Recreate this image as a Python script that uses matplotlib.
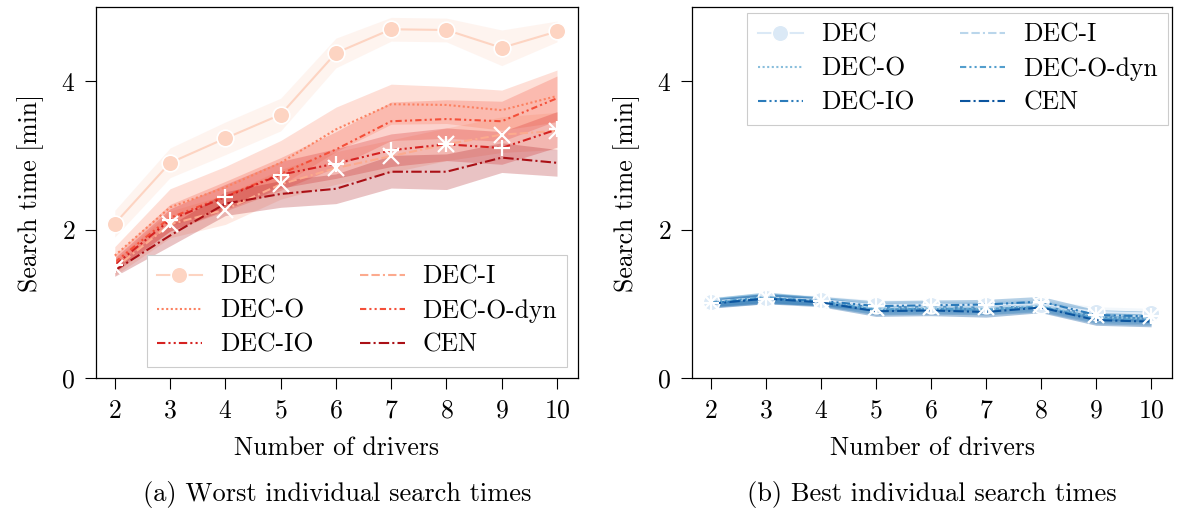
import matplotlib
matplotlib.use("Agg")
import matplotlib.pyplot as plt
import numpy as np

plt.rcParams['font.family'] = ['cmr10', 'DejaVu Serif']
plt.rcParams['mathtext.fontset'] = 'cm'
plt.rcParams['axes.formatter.use_mathtext'] = True
plt.rcParams['font.size'] = 18.5

drivers = [2, 3, 4, 5, 6, 7, 8, 9, 10]
methods = ["DEC", "DEC-I", "DEC-O", "DEC-O-dyn", "DEC-IO", "CEN"]

# Worst individual search times (mean) [min]
worst_DEC = [2.08, 2.90, 3.23, 3.55, 4.38, 4.70, 4.69, 4.45, 4.67]
worst_DEC_I = [1.48, 2.07, 2.27, 2.61, 2.83, 2.99, 3.15, 3.28, 3.33]
worst_DEC_O = [1.65, 2.30, 2.57, 2.90, 3.35, 3.69, 3.68, 3.61, 3.80]
worst_DEC_O_dyn = [1.56, 2.16, 2.45, 2.75, 3.08, 3.46, 3.49, 3.46, 3.77]
worst_DEC_IO = [1.52, 2.13, 2.44, 2.74, 2.89, 3.07, 3.15, 3.10, 3.35]
worst_CEN = [1.45, 1.92, 2.35, 2.48, 2.55, 2.78, 2.78, 2.97, 2.90]
# confidence half-widths
worst_DEC_ci = [0.18, 0.20, 0.22, 0.22, 0.20, 0.16, 0.16, 0.24, 0.14]
worst_DEC_I_ci = [0.10, 0.18, 0.20, 0.20, 0.22, 0.22, 0.22, 0.24, 0.25]
worst_DEC_O_ci = [0.12, 0.25, 0.28, 0.30, 0.30, 0.27, 0.25, 0.27, 0.35]
worst_DEC_O_dyn_ci = [0.10, 0.18, 0.20, 0.22, 0.24, 0.26, 0.26, 0.27, 0.30]
worst_DEC_IO_ci = [0.10, 0.15, 0.17, 0.18, 0.20, 0.22, 0.22, 0.22, 0.24]
worst_CEN_ci = [0.08, 0.14, 0.16, 0.18, 0.20, 0.22, 0.24, 0.20, 0.18]

# Best individual search times (mean) [min]
best_DEC = [1.03, 1.08, 1.05, 0.98, 0.99, 0.98, 0.99, 0.89, 0.87]
best_DEC_I = [1.02, 1.09, 1.04, 0.95, 0.96, 0.96, 0.98, 0.85, 0.83]
best_DEC_O = [1.02, 1.08, 1.03, 0.93, 0.94, 0.93, 0.97, 0.82, 0.80]
best_DEC_O_dyn = [1.02, 1.09, 1.03, 0.92, 0.93, 0.92, 0.96, 0.80, 0.78]
best_DEC_IO = [1.01, 1.07, 1.04, 0.97, 0.98, 0.99, 1.03, 0.85, 0.83]
best_CEN = [1.00, 1.07, 1.02, 0.90, 0.91, 0.89, 0.95, 0.78, 0.76]
best_ci = [0.06, 0.07, 0.06, 0.07, 0.07, 0.07, 0.07, 0.07, 0.07]

reds = ['#fdd4c2', '#fcaa8e', '#fc8161', '#f44f39', '#d52221', '#aa1016']
blues = ['#dbe9f6', '#bad6eb', '#89bedc', '#539ecd', '#2b7bba', '#0b559f']

styles = {
    "DEC": '-',
    "DEC-I": (0, (4, 1.5, 4, 1.5, 1, 1.5)),
    "DEC-O": (0, (1, 1.2)),
    "DEC-O-dyn": (0, (3, 1.5, 1, 1.5, 1, 1.5)),
    "DEC-IO": (0, (4, 1.5, 1, 1.5, 1, 1.5)),
    "CEN": (0, (5, 1.5, 1, 1.5)),
}
markers = {"DEC-I": 'x', "DEC-IO": '+'}

worst = {
    "DEC": (worst_DEC, worst_DEC_ci),
    "DEC-I": (worst_DEC_I, worst_DEC_I_ci),
    "DEC-O": (worst_DEC_O, worst_DEC_O_ci),
    "DEC-O-dyn": (worst_DEC_O_dyn, worst_DEC_O_dyn_ci),
    "DEC-IO": (worst_DEC_IO, worst_DEC_IO_ci),
    "CEN": (worst_CEN, worst_CEN_ci),
}
best = {
    "DEC": (best_DEC, best_ci),
    "DEC-I": (best_DEC_I, best_ci),
    "DEC-O": (best_DEC_O, best_ci),
    "DEC-O-dyn": (best_DEC_O_dyn, best_ci),
    "DEC-IO": (best_DEC_IO, best_ci),
    "CEN": (best_CEN, best_ci),
}

fig = plt.figure(figsize=(11.81, 5.15), dpi=100)
ax1 = fig.add_axes([96/1181, 137/515, 482/1181, 371/515])
ax2 = fig.add_axes([692/1181, 137/515, 480/1181, 371/515])

legend_order = ["DEC", "DEC-O", "DEC-IO", "DEC-I", "DEC-O-dyn", "CEN"]

def draw(ax, data, colors, legend_loc, bbox, alpha):
    x = np.array(drivers)
    handles = {}
    for i, m in enumerate(methods):
        y, ci = data[m]
        y = np.array(y); ci = np.array(ci)
        c = colors[i]
        ax.fill_between(x, y - ci, y + ci, color=c, alpha=alpha, lw=0)
        if m == "DEC":
            ln, = ax.plot(x, y, color=c, ls='-', lw=1.5, marker='o', ms=12,
                          mfc=c, mec='white', mew=1.2, zorder=3)
        else:
            ln, = ax.plot(x, y, color=c, ls=styles[m], lw=1.5, zorder=3)
            if m in markers:
                ax.plot(x, y, ls='none', marker=markers[m], ms=12, mec='white',
                        mew=1.6, zorder=4)
        handles[m] = ln
    ax.set_xlim(1.66, 10.38)
    ax.set_ylim(0, 5.0)
    ax.set_xticks(drivers)
    ax.set_yticks([0, 2, 4])
    ax.tick_params(direction='out', length=8, width=0.8, pad=7)
    for s in ax.spines.values():
        s.set_linewidth(0.9)
    ax.set_xlabel("Number of drivers", labelpad=10)
    ax.set_ylabel("Search time [min]", labelpad=12)
    leg = ax.legend([handles[m] for m in legend_order], legend_order, ncol=2,
                    loc=legend_loc, bbox_to_anchor=bbox, fancybox=False,
                    framealpha=1.0, edgecolor='#cccccc', fontsize=18.5,
                    handlelength=1.75, columnspacing=1.8, labelspacing=0.4,
                    borderpad=0.4, handletextpad=0.7, borderaxespad=0.0)
    leg.get_frame().set_linewidth(0.8)

draw(ax1, worst, reds, 'lower right', (0.978, 0.03), 0.25)
draw(ax2, best, blues, 'upper right', (0.992, 0.984), 0.35)

fig.text(337/1181, 1 - 495/515, "(a) Worst individual search times", ha='center', va='center', fontsize=19)
fig.text(932/1181, 1 - 495/515, "(b) Best individual search times", ha='center', va='center', fontsize=19)

fig.savefig("out.png", dpi=100)
